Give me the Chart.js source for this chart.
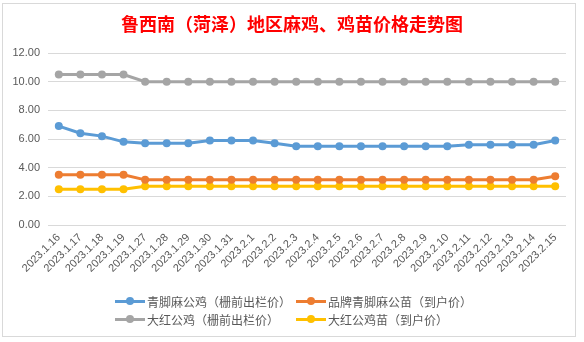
<!DOCTYPE html>
<html lang="zh">
<head>
    <meta charset="UTF-8">
    <script src="https://cdn.jsdelivr.net/npm/chart.js"></script>
    <title>鲁西南（菏泽）地区麻鸡、鸡苗价格走势图</title>
    <style>
        body {
            margin: 0;
            background: #ffffff;
            font-family: "Noto Sans CJK SC", "Noto Sans", sans-serif;
        }

        .marco {
            position: absolute;
            left: 2px;
            top: 3px;
            width: 574px;
            height: 334px;
            border: 1px solid #d9d9d9;
            box-sizing: border-box;
        }

        .titulo {
            position: absolute;
            left: 0;
            width: 584px;
            top: 12px;
            text-align: center;
            color: #ff0000;
            font-size: 18px;
            font-weight: bold;
            line-height: 22px;
        }

        canvas {
            position: absolute;
            left: 0;
            top: 0;
        }

        .leyenda {
            position: absolute;
            left: 115px;
            top: 292px;
            width: 380px;
            display: flex;
            flex-wrap: wrap;
        }

        .leyenda .item {
            width: 181px;
            height: 18px;
            display: flex;
            align-items: center;
            font-size: 12px;
            color: #595959;
        }

        .leyenda .muestra {
            position: relative;
            width: 30px;
            height: 3px;
            margin-right: 2px;
        }

        .leyenda .muestra span {
            position: absolute;
            left: 11px;
            top: -2.5px;
            width: 8px;
            height: 8px;
            border-radius: 50%;
        }
    </style>
</head>
<body>
<div class="marco"></div>
<canvas id="grafico" width="584" height="342"></canvas>
<div class="titulo">鲁西南（菏泽）地区麻鸡、鸡苗价格走势图</div>
<div class="leyenda" id="leyenda"></div>

<script>
    // Fechas del eje X
    const fechas = ["2023.1.16", "2023.1.17", "2023.1.18", "2023.1.19", "2023.1.27", "2023.1.28",
        "2023.1.29", "2023.1.30", "2023.1.31", "2023.2.1", "2023.2.2", "2023.2.3", "2023.2.4",
        "2023.2.5", "2023.2.6", "2023.2.7", "2023.2.8", "2023.2.9", "2023.2.10", "2023.2.11",
        "2023.2.12", "2023.2.13", "2023.2.14", "2023.2.15"];

    // Precios
    const qingjiaoGongji = [6.9, 6.4, 6.2, 5.8, 5.7, 5.7, 5.7, 5.9, 5.9, 5.9, 5.7, 5.5,
        5.5, 5.5, 5.5, 5.5, 5.5, 5.5, 5.5, 5.6, 5.6, 5.6, 5.6, 5.9];
    const pinpaiGongmiao = [3.5, 3.5, 3.5, 3.5, 3.15, 3.15, 3.15, 3.15, 3.15, 3.15, 3.15, 3.15,
        3.15, 3.15, 3.15, 3.15, 3.15, 3.15, 3.15, 3.15, 3.15, 3.15, 3.15, 3.4];
    const dahongGongji = [10.5, 10.5, 10.5, 10.5, 10, 10, 10, 10, 10, 10, 10, 10,
        10, 10, 10, 10, 10, 10, 10, 10, 10, 10, 10, 10];
    const dahongJimiao = [2.5, 2.5, 2.5, 2.5, 2.7, 2.7, 2.7, 2.7, 2.7, 2.7, 2.7, 2.7,
        2.7, 2.7, 2.7, 2.7, 2.7, 2.7, 2.7, 2.7, 2.7, 2.7, 2.7, 2.7];

    const nombres = ["青脚麻公鸡（栅前出栏价）", "品牌青脚麻公苗（到户价）", "大红公鸡（栅前出栏价）", "大红公鸡苗（到户价）"];
    const colores = ["#5b9bd5", "#ed7d31", "#a5a5a5", "#ffc000"];
    const series = [qingjiaoGongji, pinpaiGongmiao, dahongGongji, dahongJimiao];

    const datasets = series.map((datos, i) => ({
        label: nombres[i],
        data: datos,
        borderColor: colores[i],
        backgroundColor: colores[i],
        borderWidth: 3,
        pointRadius: 4,
        pointHoverRadius: 4,
        pointBorderWidth: 0,
        tension: 0
    }));

    const ctx = document.getElementById('grafico').getContext('2d');
    new Chart(ctx, {
        type: 'line',
        data: { labels: fechas, datasets: datasets },
        options: {
            responsive: false,
            animation: false,
            layout: { padding: { top: 53, right: 18, bottom: 0, left: 0 } },
            plugins: {
                legend: { display: false },
                tooltip: { enabled: false }
            },
            scales: {
                x: {
                    offset: true,
                    grid: { display: false, drawTicks: false },
                    border: { display: false },
                    ticks: {
                        color: '#595959',
                        font: { family: 'Liberation Sans', size: 11 },
                        minRotation: 45,
                        maxRotation: 45,
                        autoSkip: false,
                        padding: 6
                    },
                    afterFit: (eje) => { eje.height = 117; }
                },
                y: {
                    min: 0,
                    max: 12,
                    grid: { color: '#d9d9d9', drawTicks: false },
                    border: { display: false },
                    ticks: {
                        stepSize: 2,
                        color: '#595959',
                        font: { family: 'Liberation Sans', size: 11 },
                        padding: 8,
                        callback: (v) => v.toFixed(2)
                    },
                    afterFit: (eje) => { eje.width = 48; }
                }
            }
        }
    });

    // Leyenda en dos columnas, como en el original
    const leyenda = document.getElementById('leyenda');
    nombres.forEach((nombre, i) => {
        const item = document.createElement('div');
        item.className = 'item';
        item.innerHTML = `<div class="muestra" style="background:${colores[i]}"><span style="background:${colores[i]}"></span></div>${nombre}`;
        leyenda.appendChild(item);
    });
</script>
</body>
</html>
